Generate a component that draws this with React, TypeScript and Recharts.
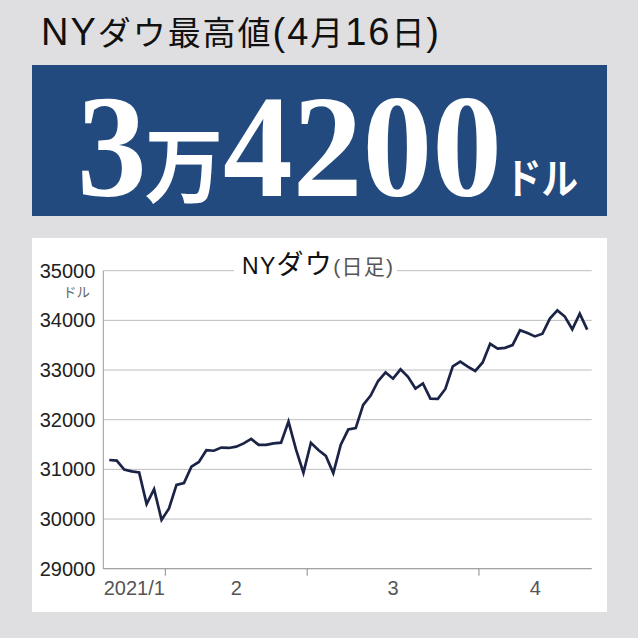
import React from 'react';
import { LineChart, Line, XAxis, YAxis, CartesianGrid } from 'recharts';

// Daily closes of the NY Dow, 2021/1/20 - 2021/4/22
const tradingDays = [
  '1/20', '1/21', '1/22', '1/25', '1/26', '1/27', '1/28', '1/29',
  '2/1', '2/2', '2/3', '2/4', '2/5', '2/8', '2/9', '2/10', '2/11', '2/12',
  '2/16', '2/17', '2/18', '2/19', '2/22', '2/23', '2/24', '2/25', '2/26',
  '3/1', '3/2', '3/3', '3/4', '3/5', '3/8', '3/9', '3/10', '3/11', '3/12',
  '3/15', '3/16', '3/17', '3/18', '3/19', '3/22', '3/23', '3/24', '3/25',
  '3/26', '3/29', '3/30', '3/31',
  '4/1', '4/5', '4/6', '4/7', '4/8', '4/9', '4/12', '4/13', '4/14', '4/15',
  '4/16', '4/19', '4/20', '4/21', '4/22',
];

const closes = [
  31188, 31176, 30996, 30960, 30937, 30303, 30603, 29983,
  30212, 30688, 30724, 31055, 31148, 31385, 31375, 31438, 31431, 31458,
  31523, 31613, 31493, 31494, 31522, 31537, 31962, 31402, 30932,
  31535, 31391, 31270, 30924, 31496, 31802, 31832, 32297, 32485, 32779,
  32953, 32826, 33015, 32863, 32628, 32731, 32423, 32420, 32619,
  33073, 33171, 33067, 32982,
  33153, 33527, 33430, 33446, 33503, 33800, 33745, 33677, 33730, 34035,
  34200, 34077, 33821, 34137, 33815,
];

const yTicks = [29000, 30000, 31000, 32000, 33000, 34000, 35000];
const monthNames = ['2021/1', '2', '3', '4'];

const rows = tradingDays.map((date, i) => ({ i, date, close: closes[i] }));

const X_MIN = -0.8;
const X_MAX = 64.6;

// month boundaries sit halfway between the last and first trading day
const monthOf = (d: string) => d.split('/')[0];
const boundaries: number[] = [];
tradingDays.forEach((d, i) => {
  if (i > 0 && monthOf(d) !== monthOf(tradingDays[i - 1])) boundaries.push(i - 0.5);
});
const edges = [X_MIN, ...boundaries, X_MAX];
const labelPos = monthNames.map((_, k) => (edges[k] + edges[k + 1]) / 2);
const xTicks = [...boundaries, ...labelPos].sort((a, b) => a - b);

const NARROW = '"Liberation Sans Narrow", "Liberation Sans", Arial, sans-serif';
const LATIN = '"Liberation Sans", Arial, sans-serif';
const JP = '"Noto Sans CJK JP", "Liberation Sans", sans-serif';
const SERIF = '"Liberation Serif", "Times New Roman", serif';

const MonthTick = (props: any) => {
  const { x, y, payload } = props;
  const v = payload.value;
  if (boundaries.some((b) => Math.abs(b - v) < 1e-6)) {
    return <line x1={x} x2={x} y1={y} y2={y + 7} stroke="#8a8a8a" strokeWidth={1} />;
  }
  const k = labelPos.findIndex((p) => Math.abs(p - v) < 1e-6);
  return (
    <text x={x} y={y + 26} textAnchor="middle" fontSize={20} fill="#555" fontFamily={NARROW}>
      {monthNames[k]}
    </text>
  );
};

const ValueTick = (props: any) => {
  const { x, y, payload } = props;
  return (
    <text x={x} y={y + 7} textAnchor="end" fontSize={20} fill="#222" fontFamily={NARROW}>
      {payload.value}
    </text>
  );
};

export default function App() {
  return (
    <div
      style={{
        position: 'absolute',
        left: 0,
        top: 0,
        width: 638,
        height: 638,
        background: '#dfdfe1',
        overflow: 'hidden',
      }}
    >
      <div style={{ position: 'absolute', left: 32, top: 65, width: 575, height: 151, background: '#234a7e' }} />
      <div style={{ position: 'absolute', left: 32, top: 238, width: 575, height: 374, background: '#ffffff' }} />

      <div style={{ position: 'absolute', left: 0, top: 0 }}>
        <LineChart
          width={638}
          height={638}
          data={rows}
          margin={{ top: 270.7, right: 46.3, bottom: 39.3, left: 43.3 }}
        >
          <CartesianGrid horizontal vertical={false} stroke="#bdbdbd" strokeWidth={1} />
          <XAxis
            dataKey="i"
            type="number"
            domain={[X_MIN, X_MAX]}
            ticks={xTicks}
            interval={0}
            height={30}
            tickSize={0}
            tickMargin={0}
            tickLine={false}
            axisLine={{ stroke: '#9a9a9a', strokeWidth: 1 }}
            tick={<MonthTick />}
          />
          <YAxis
            type="number"
            domain={[29000, 35000]}
            ticks={yTicks}
            interval={0}
            width={60}
            tickLine={false}
            axisLine={{ stroke: '#9a9a9a', strokeWidth: 1 }}
            tick={<ValueTick />}
          />
          <Line
            type="linear"
            dataKey="close"
            stroke="#1b2446"
            strokeWidth={2.7}
            dot={false}
            isAnimationActive={false}
          />
        </LineChart>
      </div>

      <svg
        width={638}
        height={638}
        style={{ position: 'absolute', left: 0, top: 0, pointerEvents: 'none' }}
      >
        <text x={41} y={45} fill="#111" textLength={398} lengthAdjust="spacing">
          <tspan fontFamily={LATIN} fontSize={38}>NY</tspan>
          <tspan fontFamily={JP} fontSize={33}>ダウ最高値</tspan>
          <tspan fontFamily={LATIN} fontSize={38}>(4</tspan>
          <tspan fontFamily={JP} fontSize={33}>月</tspan>
          <tspan fontFamily={LATIN} fontSize={38}>16</tspan>
          <tspan fontFamily={JP} fontSize={33}>日</tspan>
          <tspan fontFamily={LATIN} fontSize={38}>)</tspan>
        </text>

        <g fill="#ffffff">
          <text transform="translate(77,196) scale(0.955,1)" x={0} y={0} fontWeight={700}>
            <tspan fontFamily={SERIF} fontSize={146}>3</tspan>
            <tspan fontFamily={JP} fontSize={82} dx={-2}>万</tspan>
            <tspan fontFamily={SERIF} fontSize={146}>4200</tspan>
          </text>
          <text x={505} y={194} fontSize={42} fontWeight={700} fontFamily={JP} textLength={73} lengthAdjust="spacingAndGlyphs">
            ドル
          </text>
        </g>

        <text x={76.5} y={297} textAnchor="middle" fontSize={13.5} fill="#666" fontFamily={JP}>
          ドル
        </text>

        <rect x={234} y={254} width={163} height={30} fill="#ffffff" />
        <text x={242} y={273.5} fill="#111" textLength={151} lengthAdjust="spacing">
          <tspan fontFamily={LATIN} fontSize={23}>NY</tspan>
          <tspan fontFamily={JP} fontSize={27}>ダウ</tspan>
          <tspan fontFamily={LATIN} fontSize={21} fill="#555">(</tspan>
          <tspan fontFamily={JP} fontSize={21} fill="#555">日足</tspan>
          <tspan fontFamily={LATIN} fontSize={21} fill="#555">)</tspan>
        </text>
      </svg>
    </div>
  );
}
